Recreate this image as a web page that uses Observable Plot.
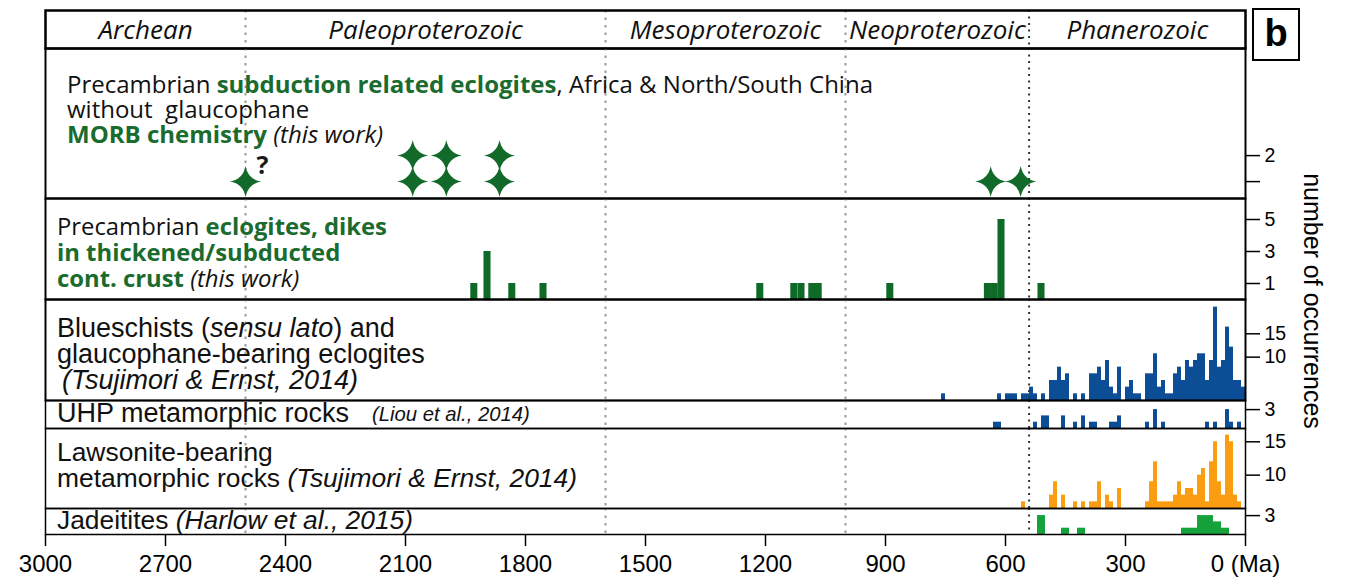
<!DOCTYPE html>
<html><head><meta charset="utf-8">
<script src="https://cdn.jsdelivr.net/npm/d3@7"></script>
<script src="https://cdn.jsdelivr.net/npm/@observablehq/plot@0.6"></script>
<style>
body{margin:0;background:#fff;}
#c{position:relative;width:1356px;height:584px;overflow:hidden;background:#fff;}
#c svg{position:absolute;left:0;}
.t{position:absolute;white-space:pre;color:#111;}
.cal{font-family:"Open Sans",sans-serif;}
.ari{font-family:"Liberation Sans",Arial,sans-serif;}
.g{color:#1a6b2e;font-weight:bold;}
i{font-style:italic;}
#b{position:absolute;left:1252px;top:8px;width:48px;height:53px;box-sizing:border-box;border:2px solid #000;font:bold 38px "Liberation Sans",Arial,sans-serif;text-align:center;line-height:47px;}
#occ{position:absolute;left:1312px;top:301px;transform:translate(-50%,-50%) rotate(90deg);font-family:"Liberation Sans",Arial,sans-serif;font-size:25px;white-space:nowrap;}
</style></head><body><div id="c"></div>
<script>
// ---------- data ----------
const eraNames = ["Archean", "Paleoproterozoic", "Mesoproterozoic", "Neoproterozoic", "Phanerozoic"];
const eraStart = [3000, 2500, 1600, 1000, 541];
const eraEnd = [2500, 1600, 1000, 541, 0];
const boundariesGray = [2500, 1600, 1000];
const boundariesBlack = [541];

// subduction-related eclogites (stars), age in Ma and stack level
const starAges = [2500, 2082, 2082, 1998, 1998, 1865, 1865, 637, 562];
const starLevels = [1, 1, 2, 1, 2, 1, 2, 1, 1];

// eclogites in thickened/subducted continental crust (bar centre age, count)
const dikeAges = [1928, 1895, 1833, 1755, 1213, 1128, 1110, 1083, 1067, 888, 644, 627, 610, 510];
const dikeCounts = [1, 3, 1, 1, 1, 1, 1, 1, 1, 1, 1, 1, 5, 1];

// blueschists, 10 Ma bins (bin start age, count)
const blueAges = [750, 610, 590, 580, 570, 550, 540, 530, 520, 500, 480, 470, 460, 450, 440, 420, 400, 380, 370, 360, 350, 340, 330, 320, 310, 290, 280, 270, 260, 240, 230, 220, 210, 200, 190, 180, 170, 160, 150, 140, 130, 120, 110, 100, 90, 80, 70, 60, 50, 40, 30, 20, 10, 0];
const blueCounts = [1, 1, 1, 1, 1, 1, 1, 2, 1, 1, 3, 3, 5, 3, 4, 1, 1, 4, 4, 5, 3, 6, 2, 1, 5, 2, 3, 1, 1, 4, 4, 7, 2, 3, 1, 1, 4, 5, 3, 6, 5, 6, 7, 7, 3, 6, 14, 5, 6, 11, 8, 3, 3, 2];

// UHP metamorphic rocks, 10 Ma bins
const uhpAges = [620, 610, 520, 500, 490, 450, 420, 400, 380, 370, 330, 320, 310, 240, 220, 200, 90, 70, 40, 30, 10];
const uhpCounts = [1, 1, 1, 2, 2, 2, 1, 2, 1, 1, 1, 1, 2, 1, 3, 1, 1, 1, 3, 1, 1];

// lawsonite-bearing rocks, 10 Ma bins
const lawsAges = [550, 480, 470, 450, 420, 400, 380, 370, 360, 340, 330, 310, 240, 230, 220, 210, 200, 190, 180, 170, 160, 150, 140, 130, 120, 110, 100, 90, 80, 70, 60, 50, 40, 30, 20, 10];
const lawsCounts = [1, 2, 4, 2, 1, 1, 1, 1, 4, 2, 1, 3, 1, 4, 7, 1, 1, 1, 1, 2, 4, 2, 3, 3, 2, 5, 6, 1, 7, 10, 4, 2, 11, 10, 2, 1];

// jadeitites, 20 Ma bins
const jadeAges = [500, 440, 400, 140, 120, 100, 80, 60, 40];
const jadeCounts = [3, 1, 1, 1, 1, 3, 3, 2, 1];

// axis ticks and their printed labels
const starTicks = [2, 1], starTickLabels = ["2", ""];
const dikeTicks = [5, 3, 1], dikeTickLabels = ["5", "3", "1"];
const blueTicks = [10, 6.5], blueTickLabels = ["15", "10"];
const uhpTicks = [3], uhpTickLabels = ["3"];
const lawsTicks = [10, 5], lawsTickLabels = ["15", "10"];
const jadeTicks = [3], jadeTickLabels = ["3"];
const xTicks = [3000, 2700, 2400, 2100, 1800, 1500, 1200, 900, 600, 300, 0];
const xTickLabels = ["3000", "2700", "2400", "2100", "1800", "1500", "1200", "900", "600", "300", "0 (Ma)"];

// ---------- build ----------
const C = document.getElementById("c");
const eras = eraNames.map((name, i) => ({name, start: eraStart[i], end: eraEnd[i]}));
const zip = (a, b) => a.map((v, i) => ({age: v, n: b[i]}));
const lab = (t, l) => { const m = new Map(t.map((v, i) => [v, l[i]])); return d => m.get(d); };

const star4 = {
  draw(ctx, size) {
    const R = Math.sqrt(size / Math.PI), k = R * 0.15;
    ctx.moveTo(0, -R);
    ctx.quadraticCurveTo(k, -k, R, 0);
    ctx.quadraticCurveTo(k, k, 0, R);
    ctx.quadraticCurveTo(-k, k, -R, 0);
    ctx.quadraticCurveTo(-k, -k, 0, -R);
    ctx.closePath();
  }
};

const dots = () => [
  Plot.ruleX(boundariesGray, {stroke: "#9a9a9a", strokeWidth: 2, strokeDasharray: "2.5,5"}),
  Plot.ruleX(boundariesBlack, {stroke: "#333", strokeWidth: 2, strokeDasharray: "2,4.5"})
];
const rightAxis = (ticks, labels) => Plot.axisY({anchor: "right", ticks, tickFormat: lab(ticks, labels), tickSize: 14, tickPadding: 5, strokeWidth: 1.5, fontSize: 19.5, label: null});

function panel(top, height, ydomain, marks, extra = {}) {
  const mb = extra.marginBottom || 0;
  const svg = Plot.plot({
    width: 1356, height: height + mb,
    marginLeft: 45, marginRight: 111, marginTop: 0, marginBottom: mb,
    x: {domain: [3000, 0], ...(extra.xaxis ? {} : {axis: null})},
    y: ydomain ? {domain: ydomain} : undefined,
    style: {background: "transparent", overflow: "visible", fontFamily: "Liberation Sans, Arial, sans-serif", fontSize: "19px", color: "#000"},
    marks
  });
  svg.style.top = top + "px";
  C.append(svg);
}

// header with eras
panel(10, 38, null, [
  ...dots(),
  Plot.text(eras, {x: d => (d.start + d.end) / 2, text: "name", frameAnchor: "middle", dy: 1, fontSize: 26, fontStyle: "italic", fontFamily: "Open Sans", fill: "#111"}),
  Plot.frame({stroke: "#000", strokeWidth: 2.5})
]);

// stars panel
panel(48, 150, [0.35, 6.12], [
  ...dots(),
  Plot.dot(starAges.map((a, i) => ({age: a, lvl: starLevels[i]})), {x: "age", y: "lvl", r: 15.5, symbol: star4, fill: "#116a2a"}),
  Plot.text(["?"], {x: 2500, y: 1.6, dx: 17, text: d => d, fontSize: 25, fontWeight: "bold", fontFamily: "Open Sans", fill: "#1a1a1a"}),
  rightAxis(starTicks, starTickLabels),
  Plot.frame({stroke: "#000", strokeWidth: 2})
]);

// dikes panel
panel(198, 101, [0, 101 / 16], [
  ...dots(),
  Plot.rectY(zip(dikeAges, dikeCounts), {x1: d => d.age + 8.8, x2: d => d.age - 8.8, y: "n", fill: "#0e6a27", inset: 0}),
  rightAxis(dikeTicks, dikeTickLabels),
  Plot.frame({stroke: "#000", strokeWidth: 2})
]);

// blueschists
panel(299, 101, [0, 101 / 6.67], [
  Plot.rectY(zip(blueAges, blueCounts), {x1: "age", x2: d => d.age + 10, y: "n", fill: "#0c4e95", inset: 0}),
  ...dots(),
  rightAxis(blueTicks, blueTickLabels),
  Plot.frame({stroke: "#000", strokeWidth: 2})
]);

// UHP
panel(400, 28, [0, 28 / 6.3], [
  Plot.rectY(zip(uhpAges, uhpCounts), {x1: "age", x2: d => d.age + 10, y: "n", fill: "#0c4e95", inset: 0}),
  ...dots(),
  rightAxis(uhpTicks, uhpTickLabels),
  Plot.frame({stroke: "#000", strokeWidth: 1.5})
]);

// lawsonite
panel(428, 80, [0, 80 / 6.67], [
  Plot.rectY(zip(lawsAges, lawsCounts), {x1: "age", x2: d => d.age + 10, y: "n", fill: "#fb9d10", inset: 0}),
  ...dots(),
  rightAxis(lawsTicks, lawsTickLabels),
  Plot.frame({stroke: "#000", strokeWidth: 1.5})
]);

// jadeitites + time axis
panel(508, 26, [0, 26 / 6.3], [
  Plot.rectY(zip(jadeAges, jadeCounts), {x1: "age", x2: d => d.age + 20, y: "n", fill: "#16a23a", inset: 0}),
  ...dots(),
  rightAxis(jadeTicks, jadeTickLabels),
  Plot.axisX({ticks: xTicks, tickFormat: lab(xTicks, xTickLabels), tickSize: 12, tickPadding: 8, strokeWidth: 1.5, fontSize: 24, fontFamily: "Liberation Sans Narrow, Liberation Sans, Arial, sans-serif", label: null}),
  Plot.frame({stroke: "#000", strokeWidth: 1.5})
], {marginBottom: 50, xaxis: true});

// ---------- text overlays: one element per block, fitted on a reference line ----------
// k = (ascent - descent)/2 of the font, used to place the first baseline
const blocks = [
  {cls: "cal", k: 0.388, x: 67, base: 93, lh: 25, fit: 0, w: 806, lines: [
    'Precambrian <span class="g">subduction related eclogites</span>, Africa &amp; North/South China',
    'without  glaucophane',
    '<span class="g">MORB chemistry</span> <i>(this work)</i>']},
  {cls: "cal", k: 0.388, x: 57, base: 235, lh: 26, fit: 0, w: 330, lines: [
    'Precambrian <span class="g">eclogites, dikes</span>',
    '<span class="g">in thickened/subducted</span>',
    '<span class="g">cont. crust</span> <i>(this work)</i>']},
  {cls: "ari", k: 0.3465, x: 57, base: 337, lh: 26, fit: 1, w: 370, lines: [
    'Blueschists (<i>sensu lato</i>) and',
    'glaucophane-bearing eclogites',
    '<span style="padding-left:5px"><i>(Tsujimori &amp; Ernst, 2014)</i></span>']},
  {cls: "ari", k: 0.3465, x: 57, base: 422, lh: 26, fit: 0, w: 295, lines: ['UHP metamorphic rocks']},
  {cls: "ari", k: 0.3465, x: 372, base: 421, lh: 22, fit: 0, w: 158, lines: ['<i>(Liou et al., 2014)</i>']},
  {cls: "ari", k: 0.3465, x: 57, base: 461, lh: 26, fit: 1, w: 520, lines: [
    'Lawsonite-bearing',
    'metamorphic rocks <i>(Tsujimori &amp; Ernst, 2014)</i>']},
  {cls: "ari", k: 0.3465, x: 57, base: 529, lh: 26, fit: 0, w: 356, lines: ['Jadeitites <i>(Harlow et al., 2015)</i>']}
];
for (const blk of blocks) {
  // measure the reference line alone
  const m = document.createElement("div");
  m.className = "t " + blk.cls;
  m.style.fontSize = "20px";
  m.innerHTML = blk.lines[blk.fit];
  C.append(m);
  const size = Math.min(27, 20 * blk.w / m.getBoundingClientRect().width);
  m.remove();
  const d = document.createElement("div");
  d.className = "t " + blk.cls;
  d.innerHTML = blk.lines.join("<br>");
  d.style.left = blk.x + "px";
  d.style.fontSize = size.toFixed(2) + "px";
  d.style.lineHeight = blk.lh + "px";
  d.style.top = (blk.base - (blk.lh / 2 + blk.k * size)).toFixed(1) + "px";
  C.append(d);
}
const b = document.createElement("div"); b.id = "b"; b.textContent = "b"; C.append(b);
const occ = document.createElement("div"); occ.id = "occ"; occ.textContent = "number  of  occurrences"; C.append(occ);
</script></body></html>
